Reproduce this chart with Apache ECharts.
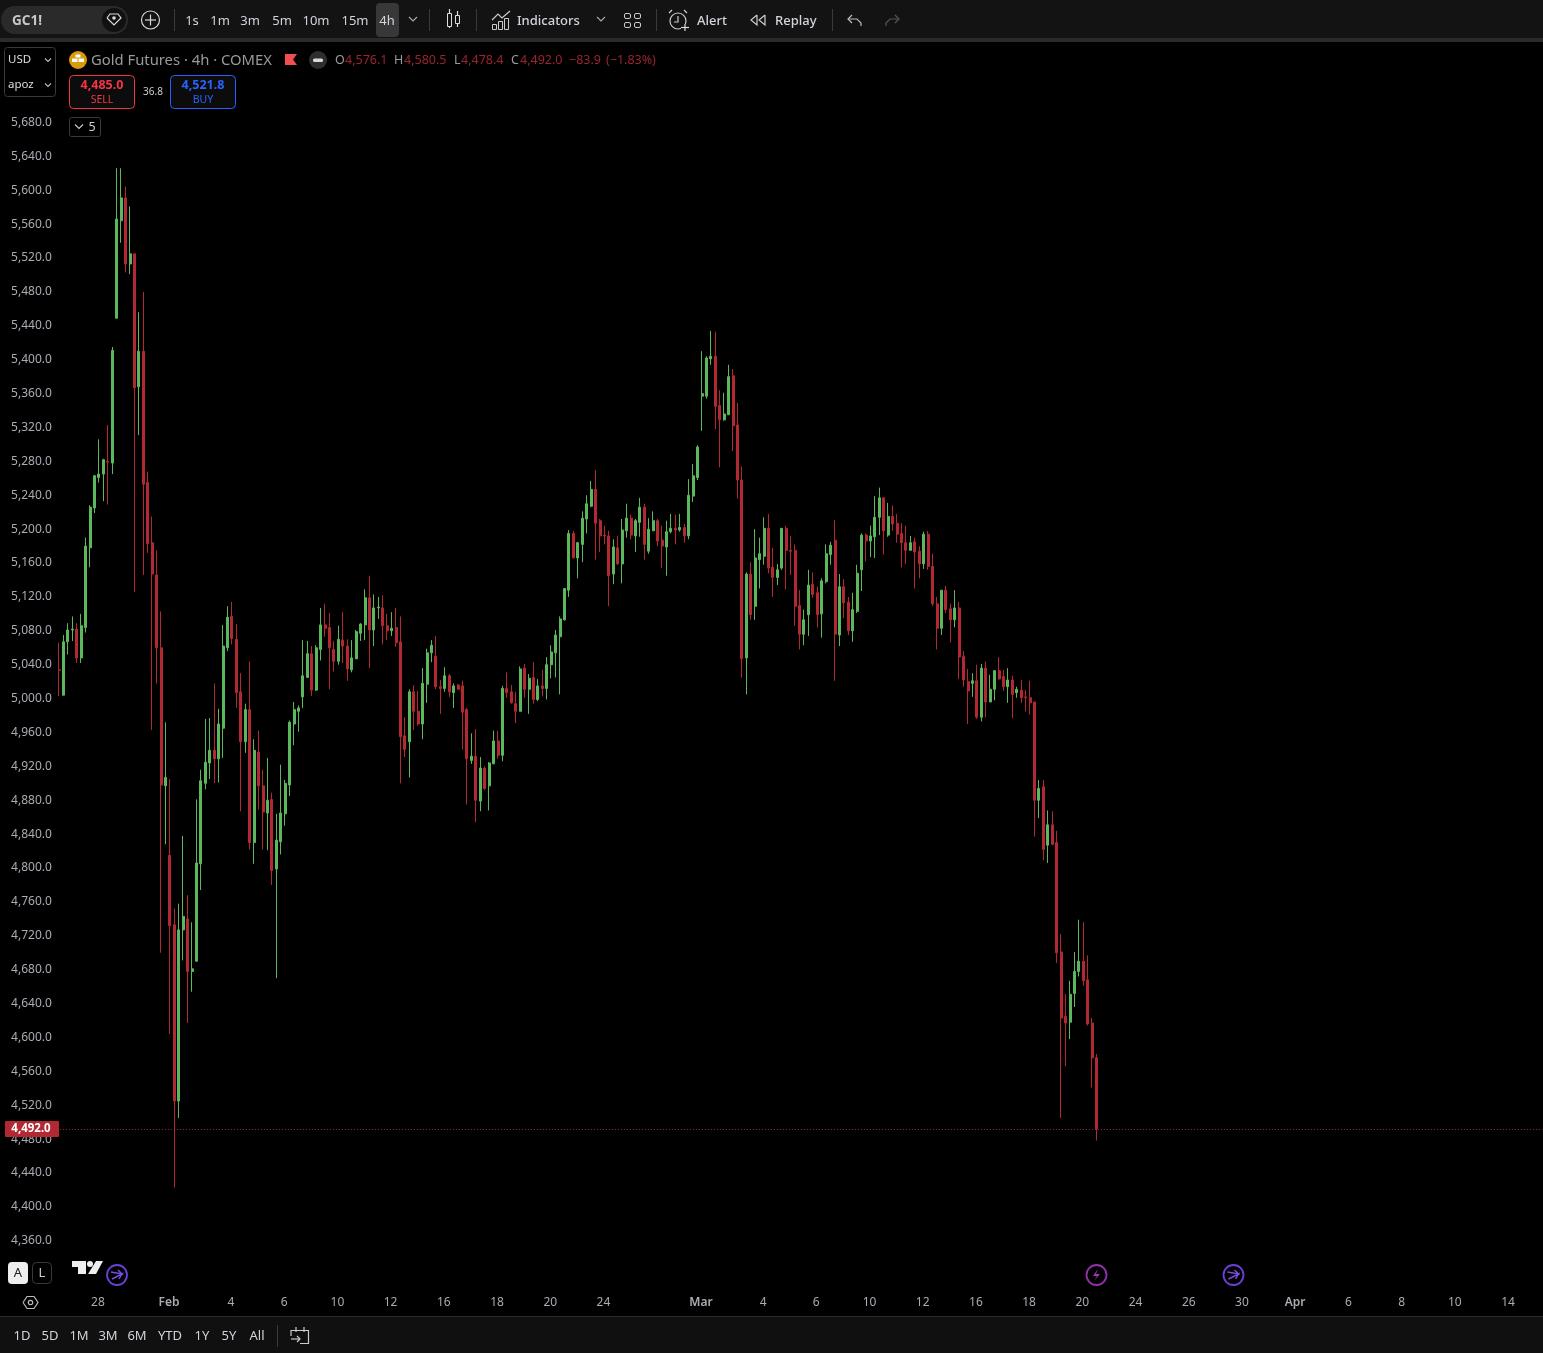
<!DOCTYPE html>
<html><head><meta charset="utf-8">
<style>html,body{margin:0;padding:0;background:#000;overflow:hidden}#c{width:1543px;height:1353px}</style>
<script src="https://cdn.jsdelivr.net/npm/echarts@6/dist/echarts.min.js"></script>
</head><body><div id="c"></div>
<script>
const opens=[5034,
5004,5067,5081,5082,5048,5084,5178,5225,5261,5265,
5280,5278,5449,5564,5591,5513,5525,5368,5410,5255,
5184,5146,5060,4897,4815,4733,4525,4727,4740,4678,
4690,4805,4900,4924,4939,4929,4965,5060,5097,5070,
5008,4949,4987,4830,4937,4897,4865,4881,4799,4831,
4864,4898,4970,4985,5002,5025,5053,5010,5058,5087,
5084,5058,5044,5069,5062,5034,5047,5077,5087,5119,
5081,5107,5107,5086,5080,5084,5067,4956,4949,5008,
4985,4970,5017,5054,5050,5014,5012,5027,5007,5016,
5015,4987,4927,4932,4879,4918,4897,4923,4950,4933,
5012,5008,4994,4985,5036,5011,5025,4999,5015,5012,
5040,5054,5073,5093,5128,5195,5166,5182,5212,5227,
5247,5210,5193,5192,5147,5178,5159,5198,5213,5192,
5208,5226,5174,5198,5210,5187,5179,5197,5201,5199,
5202,5192,5239,5261,5357,5357,5401,5404,5346,5329,
5335,5381,5323,5258,5048,5147,5109,5164,5168,5201,
5155,5143,5154,5201,5175,5175,5110,5076,5099,5135,
5125,5100,5138,5170,5187,5075,5132,5114,5080,5103,
5152,5193,5186,5191,5214,5237,5193,5215,5207,5195,
5184,5175,5185,5174,5159,5194,5156,5112,5083,5128,
5106,5093,5107,5050,5020,5018,5021,4978,5036,4996,
5011,5033,5026,5014,5022,5007,5010,5002,5001,4996,
4880,4896,4827,4851,4830,4701,4625,4618,4652,4678,
4690,4668,4617,4576.1];
const highs=[5066,
5075,5089,5097,5089,5100,5190,5228,5264,5306,5283,
5323,5415,5626,5626,5604,5581,5525,5456,5480,5268,
5215,5175,5103,4972,4905,4752,4758,4838,4768,4736,
4881,4916,4976,4977,5018,4988,5087,5109,5114,5088,
5030,4994,5044,4952,4962,4916,4930,4889,4864,4922,
4904,4974,4996,4992,5069,5068,5062,5063,5107,5112,
5101,5068,5086,5102,5070,5069,5081,5089,5129,5145,
5123,5120,5122,5100,5102,5107,5097,4978,5011,5016,
5009,5036,5059,5069,5074,5022,5037,5029,5018,5017,
5021,4989,4959,4964,4931,4920,4925,4962,4962,5015,
5031,5016,5008,5038,5041,5029,5043,5023,5034,5049,
5063,5081,5097,5130,5199,5198,5185,5221,5240,5257,
5270,5212,5204,5198,5188,5192,5212,5230,5217,5212,
5237,5230,5213,5221,5212,5204,5210,5218,5217,5218,
5206,5259,5277,5299,5410,5404,5434,5433,5364,5361,
5394,5389,5349,5274,5149,5161,5200,5190,5214,5218,
5178,5159,5201,5204,5192,5182,5128,5105,5152,5149,
5132,5142,5182,5185,5211,5147,5141,5120,5125,5158,
5195,5195,5204,5239,5249,5237,5231,5228,5218,5207,
5204,5192,5190,5180,5197,5198,5171,5120,5128,5133,
5112,5128,5114,5056,5035,5030,5040,5041,5044,5028,
5033,5049,5034,5036,5027,5014,5022,5010,5021,4996,
4904,4904,4868,4867,4844,4722,4651,4667,4701,4739,
4736,4697,4623,4580.5];
const lows=[5003,
5004,5052,5068,5042,5042,5078,5155,5219,5255,5233,
5229,5265,5449,5538,5503,5501,5126,5311,5146,5172,
4963,5018,4700,4828,4604,4423,4505,4691,4617,4654,
4690,4774,4893,4905,4900,4901,4930,5056,5064,4989,
4867,4936,4822,4805,4869,4822,4821,4780,4670,4816,
4850,4885,4945,4961,4989,5025,5003,5009,5045,5073,
5011,5032,5040,5042,5021,5031,5047,5068,5069,5036,
5062,5094,5064,5069,5074,5061,4900,4931,4907,4963,
4968,4952,4995,5043,5011,4982,5008,5002,4989,5011,
4940,4875,4923,4854,4867,4892,4868,4923,4929,4926,
5001,4994,4971,4985,5001,4982,4994,4997,5003,4999,
5024,5025,5005,5092,5120,5166,5142,5161,5195,5226,
5164,5173,5182,5109,5135,5158,5136,5190,5188,5173,
5191,5164,5171,5198,5180,5154,5145,5195,5182,5197,
5184,5188,5232,5258,5316,5354,5394,5318,5273,5328,
5335,5292,5236,5025,5005,5093,5093,5130,5158,5148,
5120,5134,5152,5129,5146,5086,5058,5063,5074,5119,
5084,5072,5136,5158,5021,5062,5095,5075,5067,5101,
5127,5162,5167,5166,5193,5170,5191,5198,5184,5155,
5159,5175,5130,5142,5153,5152,5109,5058,5075,5101,
5066,5084,5023,5014,4970,5002,4976,4973,4978,4996,
4998,5023,5009,4995,4977,5001,4995,4985,4981,4837,
4859,4809,4806,4827,4688,4505,4566,4598,4636,4672,
4661,4614,4541,4478.4];
const closes=[5033.5,
5067,5081,5082,5048,5086,5180,5226,5263,5265,5282,
5279,5411,5566,5591,5513,5525,5367,5410,5253,5183,
5147,5060,4898,4907,4732,4525,4727,4743,4678,4681,
4806,4903,4925,4939,4929,4970,5062,5096,5071,5007,
4949,4987,4830,4939,4897,4866,4880,4797,4833,4865,
4900,4972,4987,4989,5027,5053,5010,5060,5087,5083,
5060,5044,5070,5062,5035,5048,5079,5088,5119,5081,
5107,5108,5086,5080,5083,5066,4955,4940,5008,4985,
4970,5018,5054,5063,5014,5012,5027,5008,5015,5011,
4984,4929,4932,4880,4918,4894,4924,4950,4933,5012,
5007,4995,4985,5035,5011,5024,4999,5015,5012,5040,
5055,5075,5094,5130,5195,5166,5184,5213,5230,5247,
5207,5192,5192,5145,5179,5159,5199,5213,5193,5210,
5226,5182,5200,5210,5186,5180,5197,5201,5199,5202,
5192,5240,5263,5297,5360,5402,5404,5345,5329,5336,
5380,5322,5258,5047,5147,5099,5166,5171,5201,5154,
5143,5152,5201,5175,5174,5109,5076,5093,5134,5123,
5099,5139,5171,5181,5076,5132,5113,5080,5105,5148,
5193,5186,5192,5214,5237,5198,5215,5206,5194,5184,
5175,5184,5173,5159,5194,5156,5112,5083,5128,5105,
5093,5107,5049,5022,5009,5021,4978,5036,4996,5011,
5033,5023,5014,5022,5005,5011,5001,5001,4995,4880,
4894,4822,4851,4828,4700,4623,4617,4651,4678,4690,
4667,4616,4576,4492];
const tickSlots=[9,25,39,51,63,75,87,99,111,123,145,159,171,183,195,207,219,231,243,255,267,279,291,303,315,327];
const tickLabels=['28','Feb','4','6','10','12','16','18','20','24','Mar','4','6','10','12','16','18','20','24','26','30','Apr','6','8','10','14'];
const slotCount=335;
const lastPrice=closes[closes.length-1];

const categories=[];
for(let i=0;i<slotCount;i++){const t=tickSlots.indexOf(i);categories.push(t>=0?tickLabels[t]:'');}
const candles=opens.map((o,i)=>[o,closes[i],lows[i],highs[i]]);
const GREEN='#5cb85c',RED='#b22833';
const FF='"Noto Sans","Open Sans",sans-serif';
const g=[];
function R(x,y,w,h,o){o=o||{};g.push({type:'rect',z:51,silent:true,shape:{x,y,width:w,height:h,r:o.r||0},style:{fill:o.fill||'transparent',stroke:o.stroke||null,lineWidth:o.lw||1}});}
function T(text,x,y,o){o=o||{};g.push({type:'text',z:51,silent:true,style:{text,x,y,fill:o.fill||'#d1d4dc',font:(o.w||'normal')+' '+(o.s||13)+'px '+FF,textAlign:o.a||'center',textVerticalAlign:'middle'}});}
function P(pts,o){o=o||{};g.push({type:o.fill?'polygon':'polyline',z:51,silent:true,shape:{points:pts},style:{fill:o.fill||null,stroke:o.fill?null:(o.c||'#d1d4dc'),lineWidth:o.lw||1.2}});}
function C(cx,cy,r,o){o=o||{};g.push({type:'circle',z:51,silent:true,shape:{cx,cy,r},style:{fill:o.fill||'transparent',stroke:o.c||null,lineWidth:o.lw||1.2}});}
function chev(x,y,c,w){w=w||4;P([[x-w,y-w/2],[x,y+w/2],[x+w,y-w/2]],{c:c||'#aaa',lw:1.1});}
// top toolbar
R(0,0,1543,38,{fill:'#131313'});R(0,38,1543,4,{fill:'#2b2b2b'});
R(1,6,127,28,{fill:'#2a2a2a',r:14});C(114,20,12,{fill:'#111'});
P([[107,18],[110,14],[118,14],[121,18],[114,25],[107,18]],{c:'#ddd'});C(114,18,1.8,{fill:'#ddd'});
T('GC1!',12,21,{a:'left',w:'bold',s:13.5,fill:'#c8c8c8'});
C(150.5,20,9,{c:'#d8d8d8'});P([[145,20],[156,20]],{c:'#d8d8d8'});P([[150.5,14.5],[150.5,25.5]],{c:'#d8d8d8'});
[[174],[429],[476],[656],[832]].forEach(a=>R(a[0],9,1,22,{fill:'#3a3a3a'}));
R(376,3,23,34,{fill:'#383838',r:4});
[['1s',192],['1m',220],['3m',250],['5m',282],['10m',316],['15m',355],['4h',387]].forEach(a=>T(a[0],a[1],21,{s:13}));
chev(413,19);
// candle icon
P([[449.5,9],[449.5,28]],{c:'#ddd'});R(447.5,13.5,4,13,{fill:'#131313',stroke:'#ddd'});
P([[457.5,11],[457.5,27]],{c:'#ddd'});R(455.5,15.5,4,8,{fill:'#131313',stroke:'#ddd'});
// indicators icon
P([[492,20],[498,14],[502,18],[510,11]],{c:'#ccc'});
R(492.5,24.5,4,5,{stroke:'#ccc'});R(498.5,21.5,4,8,{stroke:'#ccc'});R(504.5,18.5,4,11,{stroke:'#ccc'});
T('Indicators',517,21,{a:'left',s:13,w:500});chev(601,19);
[[624,13],[634,13],[624,22],[634,22]].forEach(a=>R(a[0]+.5,a[1]+.5,6,5,{stroke:'#ccc',r:1.5}));
// alert icon
C(678,21,8,{c:'#ccc'});P([[678,16],[678,22],[674,22]],{c:'#ccc'});P([[669,13],[672,10]],{c:'#ccc'});P([[684,10],[687,13]],{c:'#ccc'});
R(681,24,8,6,{fill:'#131313'});P([[681,27.5],[689,27.5]],{c:'#ddd'});P([[685,24],[685,31]],{c:'#ddd'});
T('Alert',697,21,{a:'left',s:13,w:500});
P([[757,15],[751,20],[757,25],[757,15]],{c:'#ccc'});P([[765,15],[759,20],[765,25],[765,15]],{c:'#ccc'});
T('Replay',775,21,{a:'left',s:13,w:500});
P([[852,15],[848,19],[852,23]],{c:'#bbb'});P([[848,19],[857,19],[861,23],[861,26]],{c:'#bbb'});
P([[895,15],[899,19],[895,23]],{c:'#555'});P([[899,19],[890,19],[886,23],[886,26]],{c:'#555'});
// legend
R(4.5,47.5,51,49,{stroke:'#3a3a3a',r:3});
T('USD',8,60,{a:'left',s:11.5,fill:'#ddd'});chev(48,60,'#bbb',3);
T('apoz',8,85,{a:'left',s:11.5,fill:'#ddd'});chev(48,85,'#bbb',3);
C(78,60,9,{fill:'#d99a0c'});R(75.5,54.5,5,3,{fill:'#fff'});R(72,58.5,5.5,3.5,{fill:'#fff'});R(78.5,58.5,5.5,3.5,{fill:'#fff'});
T('Gold Futures · 4h · COMEX',91,60.5,{a:'left',s:14.8,fill:'#9a9a9a'});
P([[285,54],[297,54],[293,59.5],[297,65],[285,65]],{fill:'#f24e50'});
C(318,60,9,{fill:'#2e2e2e'});R(313,58.5,10,3.5,{fill:'#d8d8d8',r:1.5});
const LBL='#9a9a9a',VAL='#9c2430';
[['O',335,LBL],['4,576.1',345,VAL],['H',394,LBL],['4,580.5',404,VAL],['L',454,LBL],['4,478.4',461,VAL],['C',511,LBL],['4,492.0',520,VAL],['−83.9',569,VAL],['(−1.83%)',606,VAL]].forEach(a=>T(a[0],a[1],60,{a:'left',s:12.5,fill:a[2]}));
R(69.5,75.5,65,33,{stroke:'#f23645',r:4,fill:'#0c0c0c'});
T('4,485.0',102,85.5,{w:'bold',s:12.5,fill:'#f23645'});T('SELL',102,100,{s:10.5,fill:'#f23645'});
T('36.8',153,92,{s:10,fill:'#ccc'});
R(170.5,75.5,65,33,{stroke:'#2962ff',r:4,fill:'#0c0c0c'});
T('4,521.8',203,85.5,{w:'bold',s:12.5,fill:'#2962ff'});T('BUY',203,100,{s:10.5,fill:'#2962ff'});
R(69.5,117.5,31,19,{stroke:'#3a3a3a',r:2});chev(79,126.5,'#ccc');T('5',92,127,{s:12.5,fill:'#d0d0d0'});
// price tag
R(5,1121,54,16,{fill:RED,r:1});T('4,492.0',31,1129,{s:11.5,w:'bold',fill:'#fff'});
// bottom-left
R(8,1262,20,22,{fill:'#eee',r:4});T('A',18,1273,{s:13,fill:'#222'});
R(32.5,1262.5,19,21,{stroke:'#3a3a3a',r:4});T('L',42,1273,{s:13,fill:'#ccc'});
P([[72,1261],[86,1261],[86,1274],[78,1274],[78,1267],[72,1267]],{fill:'#eee'});C(90,1264,3,{fill:'#eee'});
P([[96,1261],[103,1261],[96,1274],[88,1274]],{fill:'#eee'});
function arrowIcon(cx,cy){C(cx,cy,10,{c:'#6b3fd4',lw:1.8});P([[cx-6,cy-3],[cx+5,cy-1],[cx+1,cy-5]],{c:'#7a4de0',lw:1.4});P([[cx-5,cy+4],[cx+5,cy-1],[cx+2,cy+4]],{c:'#7a4de0',lw:1.4});}
arrowIcon(117,1275);arrowIcon(1233.5,1275);
C(1096.5,1275,10,{c:'#9231a8',lw:1.8});P([[1098,1269],[1093,1276],[1097,1276],[1094,1281],[1100,1274],[1096,1274]],{fill:'#9c3ab4'});
P([[23,1302.5],[27,1296.5],[34,1296.5],[38,1302.5],[34,1308.5],[27,1308.5],[23,1302.5]],{c:'#bbb'});C(30.5,1302.5,2.2,{c:'#bbb'});
// bottom bar
R(0,1316,1543,37,{fill:'#101010'});R(0,1316,1543,1,{fill:'#2b2b2b'});
[['1D',22],['5D',50],['1M',79],['3M',108],['6M',137],['YTD',170],['1Y',202],['5Y',229],['All',257]].forEach(a=>T(a[0],a[1],1336.5,{s:13}));
R(277,1325,1,22,{fill:'#3a3a3a'});
P([[291,1336],[291,1330.5],[308.5,1330.5],[308.5,1343.5],[300,1343.5]],{c:'#ccc'});
P([[296,1327],[296,1332]],{c:'#ccc'});P([[304,1327],[304,1332]],{c:'#ccc'});
P([[291,1339],[300,1339]],{c:'#ccc'});P([[297,1336],[300,1339],[297,1342]],{c:'#ccc'});

const chart=echarts.init(document.getElementById('c'),null,{renderer:'canvas'});
chart.setOption({
 backgroundColor:'#000',animation:false,
 grid:{left:56.85,top:88.6,width:1485.4,height:1186.1,containLabel:false},
 xAxis:{type:'category',data:categories,boundaryGap:true,axisLine:{show:false},axisTick:{show:false},splitLine:{show:false},
  axisLabel:{interval:(i)=>tickSlots.indexOf(i)>=0,margin:22,padding:[0,2,0,0],color:'#a9acb3',fontFamily:FF,fontSize:12,
   formatter:(v)=>/[A-Z]/.test(v)?'{b|'+v+'}':v,rich:{b:{fontWeight:600,color:'#a9acb3',fontFamily:FF,fontSize:12}}}},
 yAxis:{type:'value',min:4320,max:5720,interval:40,position:'left',axisLine:{show:false},axisTick:{show:false},splitLine:{show:false},
  axisLabel:{show:true,showMinLabel:false,showMaxLabel:false,margin:5,color:'#a9acb3',fontFamily:FF,fontSize:12,padding:[0,0,0.6,0],
   formatter:(v)=>v.toLocaleString('en-US',{minimumFractionDigits:1,maximumFractionDigits:1})}},
 graphic:{elements:g},
 series:[{type:'candlestick',data:candles,barWidth:2.5,clip:true,
  itemStyle:{color:GREEN,color0:RED,borderColor:GREEN,borderColor0:RED,borderWidth:1},
  markLine:{silent:true,symbol:'none',animation:false,label:{show:false},lineStyle:{color:RED,type:[1,2],width:1,opacity:1},data:[{yAxis:lastPrice}]}}]
});
</script></body></html>
